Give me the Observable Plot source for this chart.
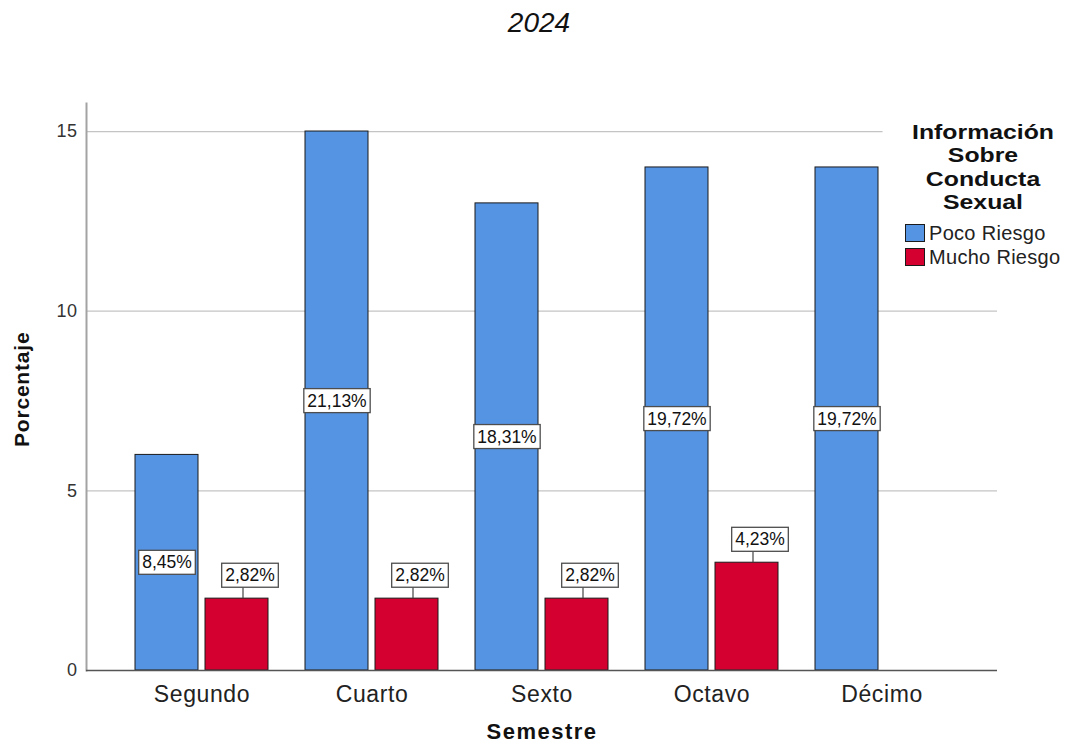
<!DOCTYPE html>
<html>
<head>
<meta charset="utf-8">
<script src="https://cdn.jsdelivr.net/npm/d3@7"></script>
<script src="https://cdn.jsdelivr.net/npm/@observablehq/plot@0.6"></script>
<style>
  body { margin: 0; background: #fff; font-family: 'Liberation Sans', Arial, sans-serif; }
  #wrap { position: relative; width: 1067px; height: 751px; overflow: hidden; background: #fff; }
  #title { position: absolute; left: 439px; top: 5px; width: 200px; text-align: center;
           font: italic 28px 'Liberation Sans', Arial, sans-serif; color: #111; line-height: 36px; }
  #chart { position: absolute; left: 0; top: 48px; }
  #legend { position: absolute; left: 902px; top: 121px; width: 162px; }
  #legend .ttl { background: #fff; text-align: center; font-weight: bold; font-size: 20px;
                 line-height: 23.3px; color: #111; transform: scaleX(1.24); transform-origin: 81px 0; }
  #legend .item { display: flex; align-items: center; height: 24px; font-size: 20px; color: #222; letter-spacing: 0.3px; }
  #legend .sw { width: 18px; height: 16px; border: 1px solid #1b1b1b; margin-left: 3px; margin-right: 4px; }
  svg [aria-label="x-axis tick label"] text { letter-spacing: 0.6px; }
  svg [aria-label="y-axis tick label"] text { letter-spacing: 0.5px; }
</style>
</head>
<body>
<div id="wrap">
  <div id="title"></div>
  <div id="chart"></div>
  <div id="legend"></div>
</div>
<script>
// ---- data ----
const chartTitle = "2024";
const semestres = ["Segundo", "Cuarto", "Sexto", "Octavo", "Décimo"];
const series = ["Poco Riesgo", "Mucho Riesgo"];
const colors = ["#5593e3", "#d4002f"];
const pocoRiesgo = [6, 15, 13, 14, 14];
const muchoRiesgo = [2, 2, 2, 3, null];
const pocoLabels = ["8,45%", "21,13%", "18,31%", "19,72%", "19,72%"];
const muchoLabels = ["2,82%", "2,82%", "2,82%", "4,23%", null];
const yTicks = [0, 5, 10, 15];
const xTitle = "Semestre";
const yTitle = "Porcentaje";
const legendTitle = ["Información", "Sobre", "Conducta", "Sexual"];

const rows = semestres.flatMap((s, i) => [
  {semestre: s, serie: series[0], value: pocoRiesgo[i], label: pocoLabels[i]},
  {semestre: s, serie: series[1], value: muchoRiesgo[i], label: muchoLabels[i]}
]).filter(d => d.value != null);
const poco = rows.filter(d => d.serie === series[0]);
const mucho = rows.filter(d => d.serie === series[1]);

document.getElementById("title").textContent = chartTitle;

const plot = Plot.plot({
  width: 1067,
  height: 703,
  marginLeft: 86,
  marginRight: 70,
  marginTop: 55,
  marginBottom: 81,
  style: {fontFamily: "'Liberation Sans', Arial, sans-serif", background: "white", overflow: "visible"},
  x: {domain: semestres, paddingInner: 0.2176, paddingOuter: 0.2882, label: null},
  y: {domain: [0, 15.78], label: null},
  color: {domain: series, range: colors},
  marks: [
    Plot.ruleY(yTicks.filter(t => t > 0), {stroke: "#c4c4c4", strokeWidth: 1.3}),
    Plot.frame({anchor: "left", stroke: "#a3a3a3", strokeWidth: 2}),
    Plot.barY(poco, {x: "semestre", y: "value", fill: "serie", stroke: "#1b1b1b", strokeWidth: 1, insetRight: 70}),
    Plot.barY(mucho, {x: "semestre", y: "value", fill: "serie", stroke: "#1b1b1b", strokeWidth: 1, insetLeft: 70}),
    Plot.ruleY([0], {stroke: "#555", strokeWidth: 1.5}),
    Plot.axisY({ticks: yTicks, tickSize: 0, tickPadding: 9, fontSize: 18, fill: "#333", label: null}),
    Plot.axisX({tickSize: 0, tickPadding: 15, fontSize: 23, fill: "#222", label: null}),
    Plot.text([yTitle], {frameAnchor: "left", dx: -64, dy: 60, rotate: -90, fontSize: 21, fontWeight: "bold", fill: "#111"}),
    Plot.text([xTitle], {frameAnchor: "bottom", dy: 68, fontSize: 22, fontWeight: "bold", fill: "#111"}),
    Plot.ruleX(mucho, {x: "semestre", y1: "value", y2: "value", insetTop: -11, dx: 41, stroke: "#444", strokeWidth: 1.2}),
    Plot.text(poco, Plot.stackY({x: "semestre", y: "value", text: "label", dx: -35, fontSize: 17.5, fill: "#111"})),
    Plot.text(mucho, {x: "semestre", y: "value", text: "label", dx: 48, dy: -23, fontSize: 17.5, fill: "#111"})
  ]
});
document.getElementById("chart").append(plot);

// letter spacing for the axis titles
plot.querySelectorAll("text").forEach(t => {
  if (t.textContent === xTitle) t.style.letterSpacing = "1.5px";
  if (t.textContent === yTitle) t.style.letterSpacing = "0.8px";
});

// white label boxes behind the percentage labels
plot.querySelectorAll("text").forEach(t => {
  if (!/%$/.test(t.textContent)) return;
  const b = t.getBBox();
  const r = document.createElementNS("http://www.w3.org/2000/svg", "rect");
  r.setAttribute("x", b.x - 3.5);
  r.setAttribute("y", b.y - 2);
  r.setAttribute("width", b.width + 7);
  r.setAttribute("height", b.height + 4);
  r.setAttribute("fill", "#fff");
  r.setAttribute("stroke", "#4d4d4d");
  r.setAttribute("stroke-width", "1.3");
  const tr = t.getAttribute("transform");
  if (tr) r.setAttribute("transform", tr);
  t.parentNode.insertBefore(r, t);
});

// legend
const lg = document.getElementById("legend");
const ttl = document.createElement("div");
ttl.className = "ttl";
ttl.innerHTML = legendTitle.join("<br>");
lg.append(ttl);
const sp = document.createElement("div");
sp.style.height = "7px";
lg.append(sp);
series.forEach((s, i) => {
  const it = document.createElement("div");
  it.className = "item";
  const sw = document.createElement("div");
  sw.className = "sw";
  sw.style.background = colors[i];
  const tx = document.createElement("span");
  tx.textContent = s;
  it.append(sw, tx);
  lg.append(it);
});
</script>
</body>
</html>
